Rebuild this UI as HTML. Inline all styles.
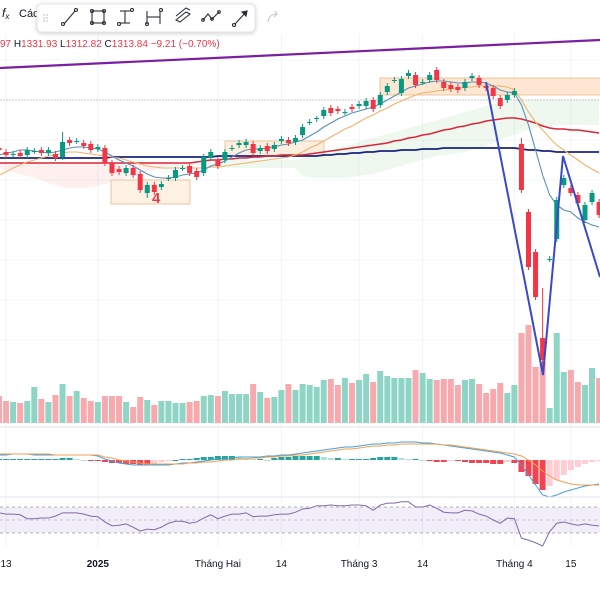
<!DOCTYPE html>
<html><head><meta charset="utf-8"><style>
html,body{margin:0;padding:0;background:#fff;width:600px;height:600px;overflow:hidden}
svg{display:block;font-family:"Liberation Sans",sans-serif}
</style></head><body>
<svg id="chart" width="600" height="600" viewBox="0 0 600 600">
<g id="grid"></g>
<g id="cloud"></g>
<g id="boxes">
 <rect x="111" y="180" width="79" height="24" fill="#fdf1e4" stroke="#e8b98c" stroke-width="0.8"/>
 <rect x="225" y="141" width="99" height="15" fill="#fdeedd" stroke="#e8b98c" stroke-width="0.8"/>
 <rect x="380" y="78" width="222" height="17" fill="#fde7d2" stroke="#e8b98c" stroke-width="0.8"/>
 <text x="152" y="203" font-size="15" fill="#e0404a" font-weight="bold">4</text>
</g>
<line x1="0" y1="100" x2="600" y2="100" stroke="#b8b8c0" stroke-width="0.8" stroke-dasharray="2,1"/>
<g id="vol"></g>
<g id="mas"></g>
<g id="candles"></g>
<line x1="0" y1="68" x2="600" y2="40" stroke="#7b1fa2" stroke-width="2.2"/>
<polyline points="486,82 543,375 563,156 600,277" fill="none" stroke="#3949c8" stroke-width="2"/>
<line x1="0" y1="427" x2="600" y2="427" stroke="#e0e3eb"/>
<g id="macd"></g>
<line x1="0" y1="497" x2="600" y2="497" stroke="#e0e3eb"/>
<g id="rsi">
 <rect x="0" y="507" width="600" height="26" fill="#7e57c2" fill-opacity="0.1"/>
 <line x1="0" y1="507" x2="600" y2="507" stroke="#9598a1" stroke-dasharray="3,3" stroke-width="0.8"/>
 <line x1="0" y1="520" x2="600" y2="520" stroke="#9598a1" stroke-dasharray="3,3" stroke-width="0.6"/>
 <line x1="0" y1="533" x2="600" y2="533" stroke="#9598a1" stroke-dasharray="3,3" stroke-width="0.8"/>
</g>
<g id="xaxis" font-size="10" fill="#131722"></g>
<text x="2" y="17" font-size="12" fill="#131722" font-style="italic">f<tspan font-size="8" dy="2">x</tspan></text>
<text x="19" y="17" font-size="11" fill="#131722">Các</text>
<rect x="37" y="4" width="218" height="28" rx="5" fill="#fff" stroke="#e6e6ea" style="filter:drop-shadow(0 1px 2px rgba(0,0,0,.2))"/>
<g fill="none" stroke="#2a2e39" stroke-width="1.1">
 <g fill="#c8c8c8" stroke="none"><circle cx="44" cy="15" r="0.9"/><circle cx="47" cy="15" r="0.9"/><circle cx="44" cy="18" r="0.9"/><circle cx="47" cy="18" r="0.9"/><circle cx="44" cy="21" r="0.9"/><circle cx="47" cy="21" r="0.9"/></g>
 <g><line x1="64" y1="24" x2="75" y2="11"/><circle cx="63" cy="24" r="1.5"/><circle cx="76" cy="10" r="1.5"/></g>
 <g><rect x="92" y="11" width="12" height="12"/><circle cx="92" cy="11" r="1.5"/><circle cx="104" cy="11" r="1.5"/><circle cx="92" cy="23" r="1.5"/><circle cx="104" cy="23" r="1.5"/></g>
 <g><line x1="120" y1="11" x2="130" y2="11"/><line x1="120" y1="23" x2="130" y2="23"/><line x1="125" y1="11" x2="125" y2="23"/><circle cx="132" cy="10" r="1.5"/><circle cx="119" cy="24" r="1.5"/></g>
 <g><line x1="147" y1="11" x2="147" y2="24"/><line x1="160" y1="11" x2="160" y2="24"/><line x1="147" y1="17" x2="160" y2="17"/><circle cx="147" cy="24" r="1.5"/><circle cx="161" cy="10" r="1.5"/></g>
 <g><path d="M176 20 L186 12 L190 14 L180 22 Z M176 16 L186 8 L190 10"/></g>
 <g><polyline points="203,20 208,14 212,19 219,12"/><circle cx="203" cy="20" r="1.3"/><circle cx="212" cy="19" r="1.3"/><circle cx="219" cy="12" r="1.3"/></g>
 <g><line x1="235" y1="24" x2="246" y2="12"/><path d="M242 12 L247 11 L246 16 Z" fill="#2a2e39"/><circle cx="234" cy="25" r="1.5"/></g>
</g>
<path d="M268 22 Q269 14 277 14 L275 11 M277 14 L274 17" fill="none" stroke="#c4c6cc" stroke-width="1.1"/>
<text x="0" y="47" font-size="10" fill="#131722"><tspan fill="#f23645">97</tspan> H<tspan fill="#f23645">1331.93</tspan> L<tspan fill="#f23645">1312.82</tspan> C<tspan fill="#f23645">1313.84</tspan> <tspan fill="#f23645">−9.21 (−0.70%)</tspan></text>
</svg>
<script>
const opens=[1282,1278,1276,1277,1275,1279,1280,1277,1276,1273,1290,1289,1287,1286,1281,1282,1267,1261,1257,1262,1256,1237,1245,1243,1252,1252,1262,1264,1259,1257,1272,1270,1270,1282,1285,1285,1286,1279,1284,1281,1289,1290,1288,1295,1308,1311,1314,1322,1321,1318,1323,1324,1324,1330,1325,1338,1350,1337,1354,1355,1348,1350,1360,1348,1345,1343,1342,1352,1352,1344,1342,1332,1330,1335,1286,1218,1178,1092,1171,1191,1245,1242,1235,1210,1228,1228];
const closes=[1280,1275,1276,1274,1280,1279,1277,1280,1272,1288,1287,1289,1284,1280,1283,1267,1257,1258,1262,1255,1240,1245,1238,1246,1252,1260,1262,1257,1253,1273,1278,1264,1278,1282,1287,1288,1277,1282,1279,1285,1291,1287,1292,1303,1308,1312,1320,1317,1319,1318,1321,1326,1329,1321,1335,1344,1350,1351,1357,1345,1348,1355,1350,1342,1341,1340,1348,1354,1345,1342,1334,1324,1335,1339,1240,1163,1133,1070,1171,1230,1252,1237,1227,1225,1237,1215];
const highs=[1285,1281,1279,1280,1283,1282,1283,1283,1279,1298,1293,1292,1290,1289,1286,1285,1270,1264,1265,1265,1259,1248,1248,1249,1255,1263,1265,1267,1262,1276,1281,1273,1281,1285,1290,1291,1289,1285,1287,1288,1294,1293,1295,1306,1311,1314,1323,1325,1324,1321,1326,1329,1332,1333,1338,1347,1353,1354,1360,1358,1351,1358,1363,1351,1348,1346,1351,1357,1355,1347,1345,1335,1338,1342,1292,1221,1181,1142,1174,1233,1255,1245,1238,1228,1240,1231];
const lows=[1277,1272,1273,1271,1272,1276,1274,1274,1269,1270,1284,1286,1281,1277,1278,1264,1254,1255,1254,1252,1237,1232,1235,1240,1249,1249,1259,1254,1250,1254,1269,1261,1267,1279,1282,1282,1274,1276,1276,1278,1286,1284,1285,1292,1305,1308,1311,1314,1316,1315,1318,1321,1321,1318,1322,1335,1347,1334,1351,1342,1345,1347,1347,1339,1338,1337,1339,1349,1342,1339,1331,1321,1327,1332,1237,1160,1130,1055,1168,1188,1242,1234,1224,1207,1225,1212];
const volumes=[27,22,21,20,22,36,24,21,28,39,27,32,25,22,21,27,27,27,21,16,26,23,18,22,22,20,20,21,22,27,28,27,32,29,29,29,39,31,25,26,33,39,33,39,38,36,43,44,38,45,40,43,49,41,52,47,45,45,45,53,50,44,43,44,44,38,43,44,39,30,34,40,30,38,90,98,56,61,15,90,51,53,41,38,55,45];
const maFast=[1275,1277,1278,1280,1280,1279,1278,1277,1278,1280,1282,1283,1283,1282,1281,1278,1274,1270,1267,1264,1260,1256,1253,1252,1252,1253,1255,1256,1257,1260,1264,1266,1269,1273,1277,1280,1281,1281,1282,1283,1285,1286,1288,1290,1294,1298,1303,1307,1311,1314,1317,1319,1321,1323,1326,1330,1334,1338,1342,1344,1346,1348,1349,1349,1348,1347,1347,1348,1348,1347,1344,1340,1338,1337,1325,1305,1280,1255,1235,1225,1220,1218,1212,1208,1205,1203];
const maMid=[1255,1258,1262,1265,1268,1270,1272,1274,1275,1277,1278,1278,1277,1276,1275,1274,1273,1272,1270,1268,1266,1264,1263,1262,1262,1262,1262,1262,1262,1262,1263,1263,1264,1265,1266,1267,1268,1269,1270,1271,1272,1273,1275,1278,1282,1285,1289,1293,1297,1301,1304,1308,1312,1315,1319,1322,1326,1329,1332,1335,1337,1338,1339,1340,1341,1342,1343,1343,1344,1344,1344,1344,1343,1340,1330,1318,1308,1300,1292,1285,1280,1275,1270,1265,1261,1257];
const maSlow=[1267,1267,1267,1267,1267,1267,1267,1267,1267,1267,1267,1267,1267,1267,1267,1267,1267,1267,1267,1267,1267,1267,1267,1267,1267,1267,1267,1267,1268,1269,1270,1270,1271,1271,1272,1272,1273,1273,1274,1274,1275,1275,1275,1275,1276,1277,1278,1279,1280,1281,1282,1283,1284,1285,1286,1287,1289,1290,1292,1293,1295,1296,1298,1300,1301,1303,1304,1306,1307,1309,1310,1311,1312,1312,1311,1309,1307,1304,1302,1301,1301,1300,1300,1299,1298,1297];
const maLong=[1272,1272,1272,1272,1272,1272,1272,1272,1272,1272,1272,1272,1272,1272,1272,1272,1273,1273,1273,1273,1273,1273,1273,1273,1273,1273,1273,1273,1273,1273,1273,1274,1274,1274,1274,1274,1274,1274,1274,1274,1274,1274,1274,1274,1274,1274,1275,1275,1276,1276,1277,1277,1278,1278,1279,1279,1279,1280,1280,1280,1281,1281,1281,1282,1282,1282,1282,1282,1282,1282,1282,1282,1282,1282,1281,1280,1280,1279,1279,1278,1278,1278,1278,1278,1278,1278];
const spanA=[1262,1260,1258,1256,1254,1252,1250,1247,1245,1243,1242,1242,1242,1243,1244,1246,1248,1250,1252,1254,1256,1258,1260,1262,1264,1264,1264,1264,1265,1265,1270,1270,1270,1270,1270,1270,1270,1270,1270,1270,1270,1270,1270,1272,1274,1276,1278,1280,1282,1284,1286,1288,1290,1292,1294,1296,1298,1300,1302,1304,1306,1308,1310,1312,1314,1316,1318,1320,1322,1324,1326,1328,1330,1330,1330,1330,1330,1330,1330,1330,1330,1330,1330,1330,1330,1330];
const spanB=[1268,1268,1268,1268,1268,1268,1268,1268,1268,1268,1268,1268,1268,1268,1268,1268,1268,1268,1268,1268,1268,1268,1268,1268,1268,1267,1267,1266,1266,1266,1262,1262,1262,1262,1262,1262,1262,1262,1262,1262,1262,1262,1262,1254,1253,1252,1252,1252,1252,1252,1253,1254,1255,1256,1258,1260,1262,1264,1266,1268,1270,1272,1274,1275,1276,1277,1278,1280,1282,1284,1287,1290,1293,1295,1298,1300,1302,1303,1304,1305,1305,1305,1305,1305,1305,1305];
const macdLine=[5,5,6,6,6,5,5,5,5,5,5,5,5,5,4,1,-1,-3,-4,-5,-5,-5,-5,-5,-5,-4,-3,-3,-2,-1,0,1,2,2,3,3,3,3,4,4,5,5,6,7,8,9,10,11,12,13,13,14,15,16,16,17,17,18,18,18,17,17,16,15,14,13,12,11,10,9,8,7,5,3,-5,-15,-25,-35,-37,-35,-32,-30,-28,-26,-25,-24];
const signalLine=[6,6,6,6,6,6,6,6,5,5,5,5,5,5,5,3,2,0,-1,-2,-3,-4,-4,-4,-4,-4,-4,-3,-3,-2,-2,-1,0,0,1,1,2,2,3,3,4,4,5,5,6,7,8,9,10,11,11,12,13,14,14,15,15,16,16,16,16,16,16,15,15,14,13,12,11,10,9,8,7,6,4,0,-5,-11,-16,-20,-22,-24,-25,-25,-25,-25];
const histogram=[1,1,1,1,1,1,1,1,1,2,2,1,0,-1,-1,-2,-3,-3,-4,-4,-5,-5,-4,-2,-1,0,1,1,2,3,3,4,4,4,3,2,1,1,0,2,3,3,4,4,4,4,3,2,2,1,1,1,1,2,3,3,3,2,1,1,0,-1,-2,-2,-1,-1,-2,-3,-3,-3,-4,-4,-2,-3,-12,-16,-24,-30,-26,-20,-15,-10,-7,-4,-2,-1];
const rsiValues=[61,59,59,58,52,52,53,53,56,61,61,61,59,56,55,47,41,42,44,39,33,36,35,39,45,48,48,45,47,53,58,52,56,59,59,61,55,56,56,58,59,59,62,67,68,72,72,73,72,72,73,73,72,65,73,76,76,78,78,70,70,73,68,62,61,61,65,64,59,56,50,45,53,52,22,19,15,10,32,45,47,44,42,44,42,41];
const tickLabels=["13","2025","Tháng Hai","14","Tháng 3","14","Tháng 4","15"];
const tickIndex=[1,14,31,40,51,60,73,81];
const tickBold=[false,true,false,false,false,false,false,false];

const NS="http://www.w3.org/2000/svg";
const xOf=i=>-1+7.06*i;
const yP=p=>1430-p;
const yV=v=>423-v;
const yM=v=>460-v;
const yR=r=>520-(r-50)*0.65;
function mk(tag,attrs,parent){const e=document.createElementNS(NS,tag);for(const k in attrs)e.setAttribute(k,attrs[k]);parent.appendChild(e);return e;}
const G=id=>document.getElementById(id);

const grid=G('grid');
tickIndex.forEach(i=>{const l=mk('line',{x1:xOf(i),x2:xOf(i),y1:34,y2:546,stroke:'#f0f3fa'},grid);

});
[60,140,180,220,260,300,340].forEach(y=>{const l=mk('line',{x1:0,x2:600,y1:y,y2:y,stroke:'#f3f5fa'},grid);

});

const cloud=G('cloud');
for(let i=0;i<spanA.length-1;i++){
 const bull=spanA[i]>=spanB[i];
 const p=mk('polygon',{points:`${xOf(i)},${yP(spanA[i])} ${xOf(i+1)},${yP(spanA[i+1])} ${xOf(i+1)},${yP(spanB[i+1])} ${xOf(i)},${yP(spanB[i])}`,fill:bull?'#4caf50':'#f44336','fill-opacity':bull?0.09:0.08,stroke:'none'},cloud);
 
 
}

const vol=G('vol');
volumes.forEach((v,i)=>{const up=closes[i]>=opens[i];
 const r=mk('rect',{x:xOf(i)-3,y:yV(v),width:6,height:v,fill:up?'#8fd5c6':'#f7a9ae'},vol);
 
 });

function line(arr,yf,color,w,parent,name){const pts=arr.map((v,i)=>xOf(i)+','+yf(v)).join(' ');
 const l=mk('polyline',{points:pts,fill:'none',stroke:color,'stroke-width':w},parent);
 
 return l;}
const mas=G('mas');
line(maLong,yP,'#1a237e',1.8,mas,'ma-long-line');
line(maSlow,yP,'#d8283a',1.6,mas,'ma-slow-line');
line(maMid,yP,'#f0b26a',1.1,mas,'ma-mid-line');
line(maFast,yP,'#5a8fb8',1.1,mas,'ma-fast-line');

const cg=G('candles');
opens.forEach((o,i)=>{const c=closes[i];const up=c>=o;const col=up?'#089981':'#f23645';const x=xOf(i);
 const w=mk('line',{x1:x,x2:x,y1:yP(highs[i]),y2:yP(lows[i]),stroke:col,'stroke-width':1},cg);
 
 
 const top=yP(Math.max(o,c)),h=Math.max(1,Math.abs(yP(o)-yP(c)));
 const b=mk('rect',{x:x-2.5,y:top,width:5,height:h,fill:col},cg);
 
 });

const mg=G('macd');
histogram.forEach((h,i)=>{const prev=i?histogram[i-1]:h;let col;
 if(h>=0)col=h>=prev?'#26a69a':'#b2dfdb';else col=h<=prev?'#f44350':'#ffcdd2';
 const r=mk('rect',{x:xOf(i)-3,y:h>=0?yM(h):460,width:6,height:Math.max(1,Math.abs(h)),fill:col},mg);
 
 });
line(macdLine,yM,'#4a9fd8',1,mg,'macd-line');
line(signalLine,yM,'#f0a050',1,mg,'signal-line');

line(rsiValues,yR,'#7e6aa8',1,G('rsi'),'rsi-line');

const xa=G('xaxis');
tickLabels.forEach((t,k)=>{const e=mk('text',{x:xOf(tickIndex[k]),y:567,'text-anchor':'middle','font-weight':tickBold[k]?'bold':'normal'},xa);
 e.textContent=t;
 
 });
</script>
</body></html>
